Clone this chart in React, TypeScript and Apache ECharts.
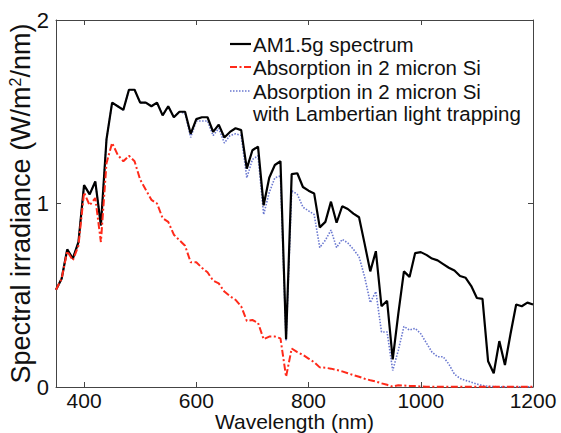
import React, { useEffect, useRef } from "react";
import * as echarts from "echarts";

const wavelengths = [
  350, 360, 370, 380, 390, 400, 410, 420, 430, 440, 450, 460, 470, 480, 490, 500,
  510, 520, 530, 540, 550, 560, 570, 580, 590, 600, 610, 620, 630, 640, 650, 660,
  670, 680, 690, 700, 710, 720, 730, 740, 750, 760, 770, 780, 790, 800, 810, 820,
  830, 840, 850, 860, 870, 880, 890, 900, 910, 920, 930, 940, 950, 960, 970, 980,
  990, 1000, 1010, 1020, 1030, 1040, 1050, 1060, 1070, 1080, 1090, 1100, 1110, 1120,
  1130, 1140, 1150, 1160, 1170, 1180, 1190, 1200,
];

const am15g = [
  0.53, 0.59, 0.75, 0.70, 0.79, 1.10, 1.05, 1.12, 0.88, 1.35, 1.55, 1.53, 1.51, 1.62, 1.62, 1.55,
  1.55, 1.53, 1.55, 1.48, 1.53, 1.47, 1.50, 1.50, 1.38, 1.46, 1.47, 1.47, 1.39, 1.43, 1.36, 1.39,
  1.41, 1.40, 1.19, 1.29, 1.31, 0.99, 1.14, 1.21, 1.23, 0.26, 1.16, 1.165, 1.09, 1.07, 1.055, 0.87,
  0.90, 1.01, 0.895, 0.985, 0.97, 0.945, 0.925, 0.78, 0.63, 0.74, 0.44, 0.47, 0.15, 0.40, 0.63, 0.60,
  0.73, 0.735, 0.72, 0.70, 0.69, 0.67, 0.65, 0.635, 0.605, 0.595, 0.55, 0.485, 0.48, 0.14,
  0.075, 0.25, 0.12, 0.29, 0.45, 0.44, 0.46, 0.45,
];

const absorption2um = [
  0.53, 0.59, 0.74, 0.69, 0.77, 1.06, 0.99, 1.03, 0.79, 1.22, 1.33, 1.265, 1.23, 1.26, 1.23, 1.13,
  1.075, 1.02, 1.0, 0.92, 0.90, 0.83, 0.80, 0.77, 0.68, 0.68, 0.65, 0.625, 0.58, 0.565, 0.52, 0.495,
  0.475, 0.44, 0.36, 0.365, 0.35, 0.26, 0.275, 0.275, 0.265, 0.056, 0.21, 0.19, 0.175, 0.155, 0.135, 0.107,
  0.105, 0.10, 0.093, 0.085, 0.075, 0.065, 0.056, 0.045, 0.037, 0.03, 0.02, 0.012, 0.002, 0.01, 0.008, 0.006,
  0.005, 0.003, 0.002, 0.002, 0.002, 0.002, 0.002, 0.002, 0.002, 0.002, 0.002, 0.002, 0.002, 0.002,
  0.002, 0.002, 0.002, 0.002, 0.002, 0.002, 0.002, 0.002,
];

const absorptionLambertian = [
  0.53, 0.59, 0.75, 0.70, 0.79, 1.10, 1.05, 1.12, 0.88, 1.35, 1.55, 1.53, 1.51, 1.62, 1.62, 1.55,
  1.55, 1.53, 1.55, 1.48, 1.53, 1.47, 1.50, 1.49, 1.36, 1.45, 1.45, 1.45, 1.37, 1.41, 1.33, 1.37,
  1.38, 1.37, 1.14, 1.24, 1.26, 0.94, 1.06, 1.14, 1.15, 0.25, 1.07, 1.05, 0.98, 0.96, 0.94, 0.76,
  0.80, 0.855, 0.76, 0.805, 0.785, 0.75, 0.71, 0.60, 0.46, 0.52, 0.30, 0.30, 0.09, 0.20, 0.33, 0.31,
  0.32, 0.29, 0.24, 0.19, 0.165, 0.165, 0.125, 0.07, 0.047, 0.036, 0.026, 0.016, 0.008, 0.004,
  0.002, 0.001, 0.001, 0.001, 0.001, 0.001, 0.001, 0.001,
];

const xTicks = [400, 600, 800, 1000, 1200];
const seriesNames = [
  "AM1.5g spectrum",
  "Absorption in 2 micron Si",
  "Absorption in 2 micron Si",
];
const legendSecondLine = "with Lambertian light trapping";

const FONT = "Liberation Sans, Arial, sans-serif";
const AXIS_COLOR = "#444";

export default function App() {
  const ref = useRef<HTMLDivElement>(null);
  useEffect(() => {
    if (!ref.current) return;
    const chart = echarts.init(ref.current, undefined, { renderer: "svg" });
    const pair = (ys: number[]) => wavelengths.map((w, i) => [w, ys[i]]);
    const colors = ["#000000", "#ff2a1a", "#6a78d0"];

    const xBase = {
      type: "value" as const,
      min: 350,
      max: 1200,
      splitLine: { show: false },
      axisLine: { show: true, onZero: false, lineStyle: { color: AXIS_COLOR, width: 1 } },
      axisTick: { show: true, inside: true, length: 5, customValues: xTicks, lineStyle: { color: AXIS_COLOR } },
    };
    const yBase = {
      type: "value" as const,
      min: 0,
      max: 2,
      interval: 1,
      splitLine: { show: false },
      axisLine: { show: true, lineStyle: { color: AXIS_COLOR, width: 1 } },
      axisTick: { show: true, inside: true, length: 5, lineStyle: { color: AXIS_COLOR } },
    };
    const legendFont = `20.5px ${FONT}`;

    chart.setOption({
      animation: false,
      backgroundColor: "#ffffff",
      textStyle: { fontFamily: FONT },
      grid: { left: 56, right: 28, top: 20, bottom: 46, outerBoundsMode: "none", containLabel: false },
      xAxis: [
        {
          ...xBase,
          position: "bottom",
          name: "Wavelength (nm)",
          nameLocation: "middle",
          nameGap: 24,
          nameMoveOverlap: false,
          nameTextStyle: { fontSize: 21, lineHeight: 21, color: "#111", fontFamily: FONT, verticalAlign: "top" },
          axisLabel: {
            customValues: xTicks,
            fontSize: 21,
            lineHeight: 20,
            color: "#111",
            margin: 3,
            fontFamily: FONT,
            formatter: (v: number) => String(v),
          },
        },
        {
          ...xBase,
          position: "top",
          axisLabel: { show: false },
        },
      ],
      yAxis: [
        {
          ...yBase,
          position: "left",
          name: "Spectral irradiance (W/m{sup|2}/nm)",
          nameLocation: "middle",
          nameGap: 21,
          nameMoveOverlap: false,
          nameRotate: 90,
          nameTextStyle: {
            fontSize: 27,
            color: "#111",
            fontFamily: FONT,
            rich: {
              sup: { fontSize: 16, verticalAlign: "top", padding: [0, 0, 12, 0], color: "#111", fontFamily: FONT },
            },
          },
          axisLabel: { fontSize: 22, color: "#111", margin: 7, fontFamily: FONT },
        },
        {
          ...yBase,
          position: "right",
          axisLabel: { show: false },
        },
      ],
      series: [
        {
          name: seriesNames[0],
          type: "line",
          data: pair(am15g),
          symbol: "none",
          z: 3,
          lineStyle: { color: colors[0], width: 2.2 },
        },
        {
          name: seriesNames[1],
          type: "line",
          data: pair(absorption2um),
          symbol: "none",
          z: 4,
          lineStyle: { color: colors[1], width: 2, type: [7, 2.5, 2, 2.5] },
        },
        {
          name: seriesNames[2],
          type: "line",
          data: pair(absorptionLambertian),
          symbol: "none",
          z: 2,
          lineStyle: { color: colors[2], width: 1.6, type: [1.5, 1.5] },
        },
      ],
      graphic: [
        { type: "line", shape: { x1: 230, y1: 44, x2: 251, y2: 44 }, style: { stroke: colors[0], lineWidth: 2.2 } },
        { type: "text", x: 253, y: 44, style: { text: seriesNames[0], font: legendFont, fill: "#111", verticalAlign: "middle" } },
        { type: "line", shape: { x1: 230, y1: 67, x2: 251, y2: 67 }, style: { stroke: colors[1], lineWidth: 2, lineDash: [7, 2.5, 2, 2.5] } },
        { type: "text", x: 253, y: 67, style: { text: seriesNames[1], font: legendFont, fill: "#111", verticalAlign: "middle" } },
        { type: "line", shape: { x1: 230, y1: 91, x2: 251, y2: 91 }, style: { stroke: colors[2], lineWidth: 1.6, lineDash: [1.5, 1.5] } },
        { type: "text", x: 253, y: 91, style: { text: seriesNames[2], font: legendFont, fill: "#111", verticalAlign: "middle" } },
        { type: "text", x: 253, y: 113, style: { text: legendSecondLine, font: legendFont, fill: "#111", verticalAlign: "middle" } },
      ],
    });
    return () => chart.dispose();
  }, []);
  return <div ref={ref} style={{ width: 561, height: 433, position: "absolute", left: 0, top: 0 }} />;
}
